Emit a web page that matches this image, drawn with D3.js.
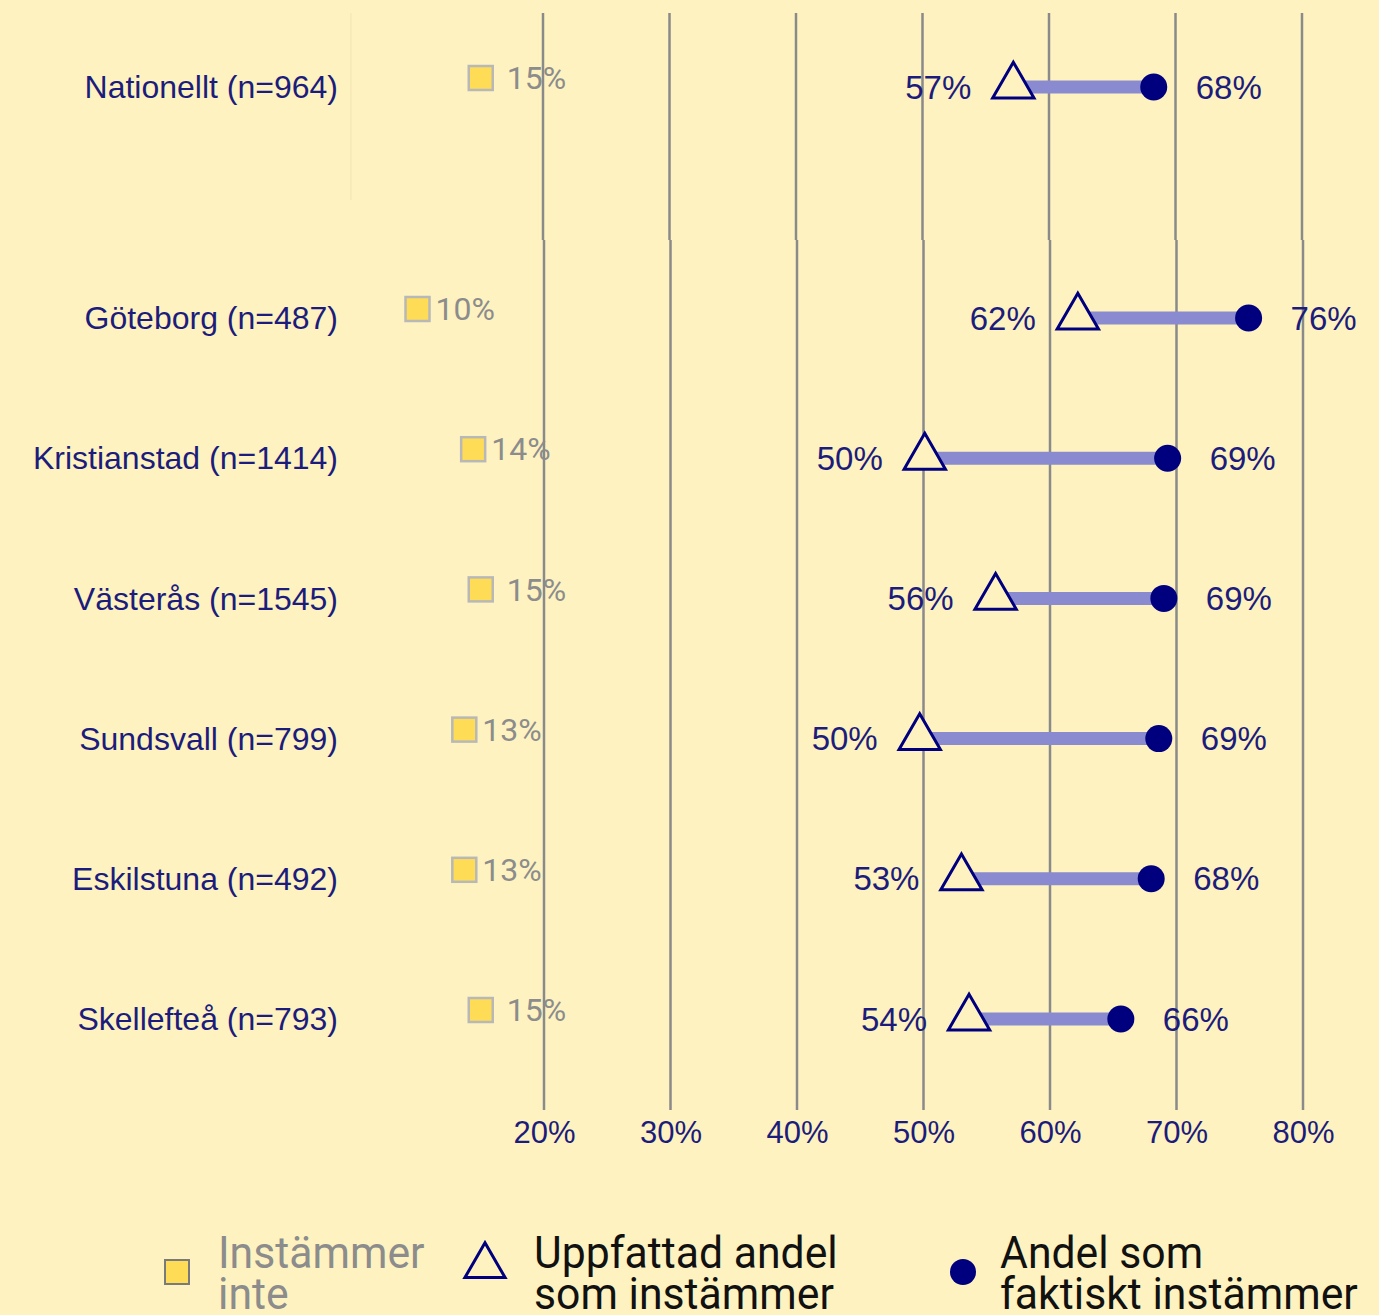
<!DOCTYPE html>
<html>
<head>
<meta charset="utf-8">
<script src="https://cdn.jsdelivr.net/npm/d3@7"></script>
<style>
  html, body { margin: 0; padding: 0; background: #fef3c0; }
  svg { display: block; }
</style>
</head>
<body>
<svg id="chart" width="1379" height="1315"></svg>
<script>
// data
const cities = ["Nationellt (n=964)", "Göteborg (n=487)", "Kristianstad (n=1414)",
  "Västerås (n=1545)", "Sundsvall (n=799)", "Eskilstuna (n=492)", "Skellefteå (n=793)"];
const perceived = [57.1, 62.2, 50.1, 55.7, 49.7, 53.0, 53.6];   // Uppfattad andel
const actual = [68.2, 75.7, 69.3, 69.0, 68.6, 68.0, 65.6];      // Andel som faktiskt instämmer
const disagree = [15, 10, 14.4, 15, 13.7, 13.7, 15];             // Instämmer inte
const disagreeLabels = [" 15%", "10%", "14%", " 15%", "13%", "13%", " 15%"];
const ticks = [20, 30, 40, 50, 60, 70, 80];
const legendItems = [["Instämmer", "inte"], ["Uppfattad andel", "som instämmer"], ["Andel som", "faktiskt instämmer"]];

let navy = "#00007f";
let textNavy = "#1c1c7c";
let bg = "#fef3c0";

let svg = d3.select("#chart");

let x = d3.scaleLinear().domain([20, 80]).range([544, 1303]);
let yLow = d3.scalePoint().domain(cities.slice(1)).range([318, 1019]);
function rowY(i) {
    return i === 0 ? 87 : yLow(cities[i]);
}

// faint divider in top panel
svg.append("line")
    .attr("x1", 351).attr("x2", 351).attr("y1", 13).attr("y2", 200)
    .style("stroke", "#f1e5b2").style("stroke-width", 1);

// grid lines, two panels
let grid = svg.append("g").attr("class", "grid");
[[13, 240, -1], [240, 1110, 0]].forEach((p) => {
    grid.append("g").selectAll("line")
        .data(ticks)
        .enter().append("line")
        .attr("x1", (d) => x(d) + p[2]).attr("x2", (d) => x(d) + p[2])
        .attr("y1", p[0]).attr("y2", p[1])
        .style("stroke", "#8a8a8a")
        .style("stroke-width", 2.5);
});

// axis labels
let axis = svg.append("g")
    .attr("transform", "translate(0,1110)")
    .call(d3.axisBottom(x).tickValues(ticks).tickSize(0).tickFormat((d) => d + "%"));
axis.select(".domain").remove();
axis.selectAll("text")
    .attr("dy", "0.71em").attr("y", 11)
    .style("font-family", "Liberation Sans, Arial, sans-serif")
    .style("font-size", "31px")
    .style("fill", textNavy);

let rows = svg.append("g").attr("class", "rows");
let idx = d3.range(cities.length);

// row labels
rows.selectAll("text.city")
    .data(idx)
    .enter().append("text")
    .attr("class", "city")
    .attr("x", 338).attr("y", (i) => rowY(i))
    .attr("dy", "0.35em")
    .attr("text-anchor", "end")
    .style("font-family", "Liberation Sans, Arial, sans-serif")
    .style("font-size", "32px")
    .style("fill", textNavy)
    .text((i) => cities[i]);

// connecting bars
rows.selectAll("line.bar")
    .data(idx)
    .enter().append("line")
    .attr("class", "bar")
    .attr("x1", (i) => x(perceived[i])).attr("x2", (i) => x(actual[i]))
    .attr("y1", (i) => rowY(i)).attr("y2", (i) => rowY(i))
    .style("stroke", "#8a8ad0")
    .style("stroke-width", 13);

// triangles
let tri = d3.symbol().type(d3.symbolTriangle).size(740);
rows.selectAll("path.tri")
    .data(idx)
    .enter().append("path")
    .attr("class", "tri")
    .attr("d", tri)
    .attr("transform", (i) => "translate(" + x(perceived[i]) + "," + (rowY(i) - 1) + ")")
    .style("fill", bg)
    .style("stroke", navy)
    .style("stroke-width", 3);

// dots
rows.selectAll("circle.dot")
    .data(idx)
    .enter().append("circle")
    .attr("class", "dot")
    .attr("cx", (i) => x(actual[i])).attr("cy", (i) => rowY(i))
    .attr("r", 13.5)
    .style("fill", navy);

// value labels
let valStyle = (sel) => sel
    .attr("dy", "0.35em")
    .style("font-family", "Liberation Sans, Arial, sans-serif")
    .style("font-size", "33px")
    .style("fill", textNavy);

rows.selectAll("text.pl")
    .data(idx)
    .enter().append("text")
    .attr("class", "pl")
    .attr("x", (i) => x(perceived[i]) - 42).attr("y", (i) => rowY(i))
    .attr("text-anchor", "end")
    .call(valStyle)
    .text((i) => Math.round(perceived[i]) + "%");

rows.selectAll("text.al")
    .data(idx)
    .enter().append("text")
    .attr("class", "al")
    .attr("x", (i) => x(actual[i]) + 42).attr("y", (i) => rowY(i))
    .call(valStyle)
    .text((i) => Math.round(actual[i]) + "%");

// disagree squares
rows.selectAll("rect.dis")
    .data(idx)
    .enter().append("rect")
    .attr("class", "dis")
    .attr("x", (i) => x(disagree[i]) - 12).attr("y", (i) => rowY(i) - 21)
    .attr("width", 24).attr("height", 24)
    .style("fill", "#fedc55")
    .style("stroke", "#b8b8b8")
    .style("stroke-width", 2.5);

rows.selectAll("text.dis")
    .data(idx)
    .enter().append("text")
    .attr("class", "dis")
    .attr("x", (i) => x(disagree[i]) + 18).attr("y", (i) => rowY(i) - 9)
    .attr("dy", "0.35em")
    .attr("xml:space", "preserve")
    .style("white-space", "pre")
    .style("font-family", "Roboto, sans-serif")
    .style("font-size", "32px")
    .style("fill", "#8c8c8c")
    .text((i) => disagreeLabels[i]);

// legend
let legend = svg.append("g").attr("class", "legend");
legend.append("rect")
    .attr("x", 165).attr("y", 1260).attr("width", 24).attr("height", 24)
    .style("fill", "#fedc55").style("stroke", "#7a7a7a").style("stroke-width", 2);
legend.append("path")
    .attr("d", d3.symbol().type(d3.symbolTriangle).size(700))
    .attr("transform", "translate(485,1266)")
    .style("fill", bg).style("stroke", navy).style("stroke-width", 3);
legend.append("circle")
    .attr("cx", 963).attr("cy", 1272).attr("r", 13)
    .style("fill", navy);

let legendX = [218, 534, 1000];
let legendColor = ["#8c8c8c", "#111", "#111"];
legendItems.forEach((lines, k) => {
    let t = legend.append("text")
        .attr("transform", "translate(" + legendX[k] + ",1268) scale(0.95,1)")
        .style("font-family", "Roboto, sans-serif")
        .style("font-size", "45px")
        .style("fill", legendColor[k]);
    lines.forEach((s, j) => {
        t.append("tspan").attr("x", 0).attr("y", j * 41).text(s);
    });
});
</script>
</body>
</html>
